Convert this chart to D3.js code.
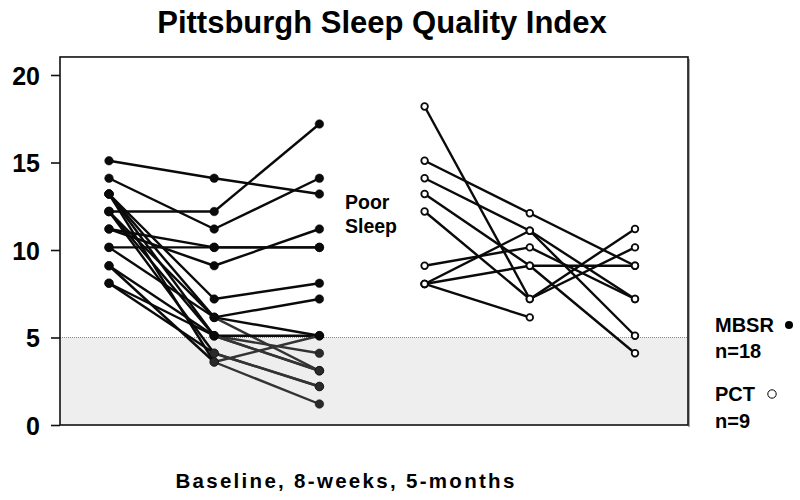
<!DOCTYPE html>
<html><head><meta charset="utf-8">
<script src="https://cdn.jsdelivr.net/npm/d3@7/dist/d3.min.js"></script>
<style>body{margin:0;background:#fff}svg{display:block}text{font-family:"Liberation Sans",Arial,sans-serif;font-weight:bold;fill:#000}</style>
</head><body><svg id="c" width="800" height="500"></svg>
<script>
const timepoints = ["Baseline", "8-weeks", "5-months"];
const yTicks = [0, 5, 10, 15, 20];
const poorSleepCutoff = 5;
// MBSR subjects (filled circles): [baseline, 8 weeks, 5 months]
const mbsr = [
  [15.1, 14.1, 13.2],
  [14.1, 11.2, 14.1],
  [12.2, 12.2, 17.2],
  [11.2, 10.15, 10.15],
  [10.15, 10.15, 10.15],
  [11.2, 9.1, 11.2],
  [13.2, 7.2, 8.1],
  [12.2, 6.15, 7.2],
  [13.2, 6.15, 5.1],
  [10.15, 6.15, 3.1],
  [13.2, 5.1, 4.1],
  [12.2, 5.1, 3.1],
  [9.1, 5.1, 5.1],
  [8.1, 4.1, 2.2],
  [9.1, 3.6, 1.2],
  [13.2, 3.6, 5.1],
  [8.1, 5.1, 3.1],
  [12.2, 4.1, 2.2]
];
// PCT subjects (open circles)
const pct = [
  [18.2, 7.2, 11.2],
  [15.1, 12.1, 9.1],
  [14.1, 11.1, 7.2],
  [13.2, 9.1, 9.1],
  [12.2, 7.2, 10.15],
  [9.1, 10.15, 7.2],
  [8.06, 11.1, 5.1],
  [8.06, 9.1, 4.1],
  [8.06, 6.15, null]
];
const groups = [
  {name: "MBSR", n: 18, data: mbsr, offset: 0, filled: true},
  {name: "PCT", n: 9, data: pct, offset: 3, filled: false}
];

const svg = d3.select("#c");
const x = d3.scaleLinear().domain([0, 5]).range([109, 635]);
const y = d3.scaleLinear().domain([0, 20]).range([425, 75]);
const pLeft = 60, pRight = 688, pTop = y(21.03), pBottom = y(0);

svg.append("rect").attr("x", pLeft).attr("y", y(poorSleepCutoff)).attr("width", pRight - pLeft)
  .attr("height", y(0) - y(poorSleepCutoff)).attr("fill", "#eeeeee");
svg.append("line").attr("x1", pLeft).attr("x2", pRight).attr("y1", y(poorSleepCutoff)).attr("y2", y(poorSleepCutoff))
  .attr("stroke", "#888").attr("stroke-width", 1).attr("stroke-dasharray", "1,1");

svg.append("rect").attr("x", pRight).attr("y", pTop + 2).attr("width", 2).attr("height", pBottom - pTop)
  .attr("fill", "#aaa");
svg.append("rect").attr("x", pLeft).attr("y", pTop).attr("width", pRight - pLeft).attr("height", pBottom - pTop)
  .attr("fill", "none").attr("stroke", "#111").attr("stroke-width", 1.6);

const yAxis = d3.axisLeft(y).tickValues(yTicks).tickSize(9).tickPadding(11).tickFormat(d3.format("d"));
const ga = svg.append("g").attr("transform", `translate(${pLeft},0)`).call(yAxis);
ga.select(".domain").remove();
ga.selectAll(".tick line").attr("stroke", "#111").attr("stroke-width", 1.6);
ga.selectAll(".tick text").style("font-size", "25px").attr("dy", "0.36em").attr("fill", "#000");

const line = d3.line().defined(d => d.v != null).x(d => x(d.i)).y(d => y(d.v));
groups.forEach(g => {
  g.data.forEach(subj => {
    const pts = subj.map((v, k) => ({i: g.offset + k, v}));
    for (let k = 0; k < pts.length - 1; k++) {
      const a = pts[k], b = pts[k + 1];
      if (a.v == null || b.v == null) continue;
      const low = g.filled && Math.max(a.v, b.v) < 6.5 && Math.min(a.v, b.v) < poorSleepCutoff;
      svg.append("path").attr("d", line([a, b])).attr("fill", "none")
        .attr("stroke", low ? "#333" : "#0a0a0a").attr("stroke-width", 2.4);
    }
  });
});
groups.forEach(g => {
  g.data.forEach(subj => {
    subj.forEach((v, k) => {
      if (v == null) return;
      svg.append("circle").attr("cx", x(g.offset + k)).attr("cy", y(v))
        .attr("r", g.filled ? 4.3 : 3.3)
        .attr("fill", g.filled ? (v < poorSleepCutoff ? "#2a2a2a" : "#0a0a0a") : "#fff")
        .attr("stroke", "#0a0a0a").attr("stroke-width", g.filled ? 0.5 : 1.8);
    });
  });
});

svg.append("text").attr("x", 382).attr("y", 33).attr("text-anchor", "middle").style("font-size", "31px")
  .text("Pittsburgh Sleep Quality Index");
svg.append("text").attr("x", 345).attr("y", 209).style("font-size", "19.5px").text("Poor");
svg.append("text").attr("x", 345).attr("y", 233).style("font-size", "19.5px").text("Sleep");
svg.append("text").attr("x", 346).attr("y", 488).attr("text-anchor", "middle").style("font-size", "20.5px")
  .style("letter-spacing", "2.3px").text(timepoints.join(", "));
const lg = svg.append("g").style("font-size", "20px");
lg.append("text").attr("x", 715).attr("y", 332).text("MBSR");
lg.append("circle").attr("cx", 789).attr("cy", 325).attr("r", 4).attr("fill", "#000");
lg.append("text").attr("x", 715).attr("y", 358).text("n=" + groups[0].n);
lg.append("text").attr("x", 715).attr("y", 401).text("PCT");
lg.append("circle").attr("cx", 772).attr("cy", 394).attr("r", 4.2).attr("fill", "none").attr("stroke", "#000").attr("stroke-width", 1);
lg.append("text").attr("x", 715).attr("y", 428).text("n=" + groups[1].n);
</script></body></html>
